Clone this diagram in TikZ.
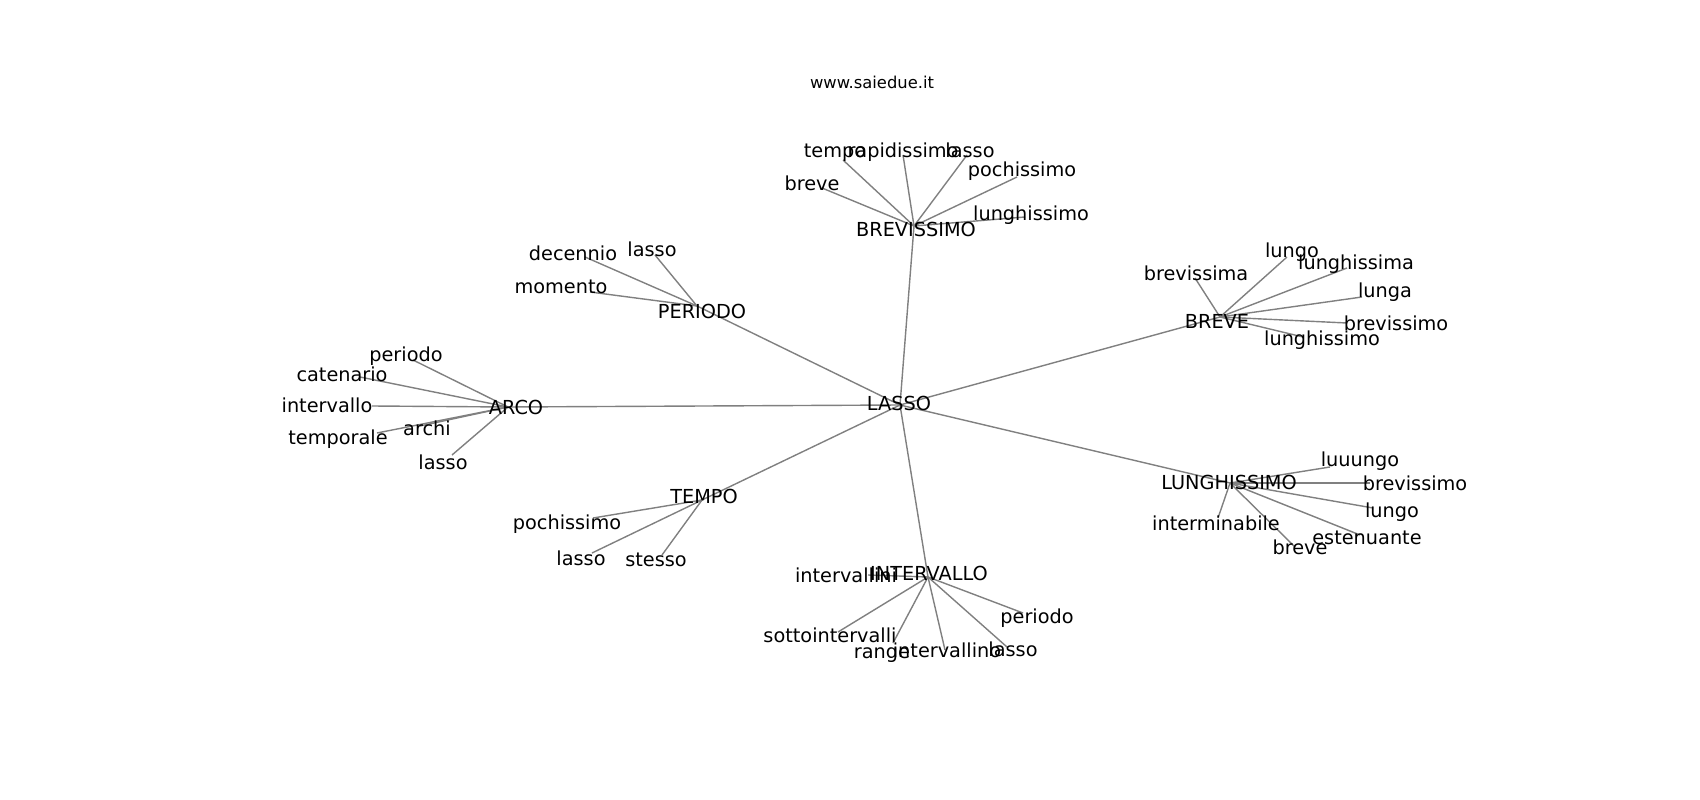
\documentclass[tikz,border=0pt]{standalone}
\usepackage{fontspec}
\setmainfont{DejaVu Sans}

\begin{document}
\begin{tikzpicture}[x=0.02cm,y=-0.02cm,
	word/.style={font=\fontsize{10.98}{13}\selectfont, inner sep=0pt},
	link/.style={edgegray, line width=0.8pt}]
	\definecolor{edgegray}{RGB}{128,128,128}
	
	\useasboundingbox (0,0) rectangle (1700,800);
	\node[font=\fontsize{9.3}{11}\selectfont] (site) at (872,82) {www.saiedue.it};
	
	\coordinate (lasso) at (900,405);
	\coordinate (brevissimo) at (914,226);
	\coordinate (periodo) at (697,306);
	\coordinate (arco) at (508,407);
	\coordinate (tempo) at (702,500);
	\coordinate (intervallo) at (928,577);
	\coordinate (breve) at (1220,317);
	\coordinate (lunghissimo) at (1230,483);
	
	\coordinate (bvTempo) at (843,160);
	\coordinate (bvRapidissimo) at (903,155);
	\coordinate (bvLasso) at (967,155);
	\coordinate (bvPochissimo) at (1017,177);
	\coordinate (bvBreve) at (822,188);
	\coordinate (bvLunghissimo) at (1025,217);
	\coordinate (pdDecennio) at (585,257);
	\coordinate (pdLasso) at (655,255);
	\coordinate (pdMomento) at (590,292);
	\coordinate (arPeriodo) at (413,360);
	\coordinate (arCatenario) at (360,377);
	\coordinate (arIntervallo) at (372,406);
	\coordinate (arTemporale) at (377,433);
	\coordinate (arArchi) at (420,426);
	\coordinate (arLasso) at (452,455);
	\coordinate (tpPochissimo) at (593,518);
	\coordinate (tpLasso) at (592,553);
	\coordinate (tpStesso) at (662,555);
	\coordinate (ivIntervallini) at (868,575);
	\coordinate (ivSotto) at (838,632);
	\coordinate (ivRange) at (893,643);
	\coordinate (ivIntervallino) at (945,650);
	\coordinate (ivLasso) at (1007,647);
	\coordinate (ivPeriodo) at (1023,613);
	\coordinate (brBrevissima) at (1195,278);
	\coordinate (brLungo) at (1287,257);
	\coordinate (brLunghissima) at (1347,268);
	\coordinate (brLunga) at (1362,297);
	\coordinate (brBrevissimo) at (1347,323);
	\coordinate (brLunghissimo) at (1303,337);
	\coordinate (lgLuuungo) at (1330,467);
	\coordinate (lgBrevissimo) at (1370,483);
	\coordinate (lgLungo) at (1373,508);
	\coordinate (lgInterminabile) at (1218,518);
	\coordinate (lgEstenuante) at (1360,535);
	\coordinate (lgBreve) at (1295,547);
	
	\draw[link] (lasso) -- (brevissimo);
	\draw[link] (lasso) -- (periodo);
	\draw[link] (lasso) -- (arco);
	\draw[link] (lasso) -- (tempo);
	\draw[link] (lasso) -- (intervallo);
	\draw[link] (lasso) -- (breve);
	\draw[link] (lasso) -- (lunghissimo);
	
	\draw[link] (brevissimo) -- (bvTempo);
	\draw[link] (brevissimo) -- (bvRapidissimo);
	\draw[link] (brevissimo) -- (bvLasso);
	\draw[link] (brevissimo) -- (bvPochissimo);
	\draw[link] (brevissimo) -- (bvBreve);
	\draw[link] (brevissimo) -- (bvLunghissimo);
	\draw[link] (periodo) -- (pdDecennio);
	\draw[link] (periodo) -- (pdLasso);
	\draw[link] (periodo) -- (pdMomento);
	\draw[link] (arco) -- (arPeriodo);
	\draw[link] (arco) -- (arCatenario);
	\draw[link] (arco) -- (arIntervallo);
	\draw[link] (arco) -- (arTemporale);
	\draw[link] (arco) -- (arArchi);
	\draw[link] (arco) -- (arLasso);
	\draw[link] (tempo) -- (tpPochissimo);
	\draw[link] (tempo) -- (tpLasso);
	\draw[link] (tempo) -- (tpStesso);
	\draw[link] (intervallo) -- (ivIntervallini);
	\draw[link] (intervallo) -- (ivSotto);
	\draw[link] (intervallo) -- (ivRange);
	\draw[link] (intervallo) -- (ivIntervallino);
	\draw[link] (intervallo) -- (ivLasso);
	\draw[link] (intervallo) -- (ivPeriodo);
	\draw[link] (breve) -- (brBrevissima);
	\draw[link] (breve) -- (brLungo);
	\draw[link] (breve) -- (brLunghissima);
	\draw[link] (breve) -- (brLunga);
	\draw[link] (breve) -- (brBrevissimo);
	\draw[link] (breve) -- (brLunghissimo);
	\draw[link] (lunghissimo) -- (lgLuuungo);
	\draw[link] (lunghissimo) -- (lgBrevissimo);
	\draw[link] (lunghissimo) -- (lgLungo);
	\draw[link] (lunghissimo) -- (lgInterminabile);
	\draw[link] (lunghissimo) -- (lgEstenuante);
	\draw[link] (lunghissimo) -- (lgBreve);
	
	\node[word] (lassoL) at (899,403) {LASSO};
	\node[word] (brevissimoL) at (916,229) {BREVISSIMO};
	\node[word] (periodoL) at (702,311) {PERIODO};
	\node[word] (arcoL) at (516,407) {ARCO};
	\node[word] (tempoL) at (704,496) {TEMPO};
	\node[word] (intervalloL) at (929,573) {INTERVALLO};
	\node[word] (breveL) at (1217,321) {BREVE};
	\node[word] (lunghissimoL) at (1229,482) {LUNGHISSIMO};
	
	\node[word] (bvTempoL) at (835,153) {tempo};
	\node[word] (bvRapidissimoL) at (903,152) {rapidissimo};
	\node[word] (bvLassoL) at (970,150) {lasso};
	\node[word] (bvPochissimoL) at (1022,171) {pochissimo};
	\node[word] (bvBreveL) at (812,183) {breve};
	\node[word] (bvLunghissimoL) at (1031,215) {lunghissimo};
	\node[word] (pdDecennioL) at (573,253) {decennio};
	\node[word] (pdLassoL) at (652,249) {lasso};
	\node[word] (pdMomentoL) at (561,287) {momento};
	\node[word] (arPeriodoL) at (406,356) {periodo};
	\node[word] (arCatenarioL) at (342,374) {catenario};
	\node[word] (arIntervalloL) at (327,405) {intervallo};
	\node[word] (arTemporaleL) at (338,439) {temporale};
	\node[word] (arArchiL) at (427,428) {archi};
	\node[word] (arLassoL) at (443,462) {lasso};
	\node[word] (tpPochissimoL) at (567,524) {pochissimo};
	\node[word] (tpLassoL) at (581,558) {lasso};
	\node[word] (tpStessoL) at (656,560) {stesso};
	\node[word] (ivIntervalliniL) at (846,575) {intervallini};
	\node[word] (ivSottoL) at (830,635) {sottointervalli};
	\node[word] (ivRangeL) at (882,655) {range};
	\node[word] (ivIntervallinoL) at (947,650) {intervallino};
	\node[word] (ivLassoL) at (1013,649) {lasso};
	\node[word] (ivPeriodoL) at (1037,618) {periodo};
	\node[word] (brBrevissimaL) at (1196,273) {brevissima};
	\node[word] (brLungoL) at (1292,252) {lungo};
	\node[word] (brLunghissimaL) at (1356,264) {lunghissima};
	\node[word] (brLungaL) at (1385,292) {lunga};
	\node[word] (brBrevissimoL) at (1396,323) {brevissimo};
	\node[word] (brLunghissimoL) at (1322,340) {lunghissimo};
	\node[word] (lgLuuungoL) at (1360,461) {luuungo};
	\node[word] (lgBrevissimoL) at (1415,483) {brevissimo};
	\node[word] (lgLungoL) at (1392,512) {lungo};
	\node[word] (lgInterminabileL) at (1216,523) {interminabile};
	\node[word] (lgEstenuanteL) at (1367,538) {estenuante};
	\node[word] (lgBreveL) at (1300,547) {breve};
	
\end{tikzpicture}
\end{document}
